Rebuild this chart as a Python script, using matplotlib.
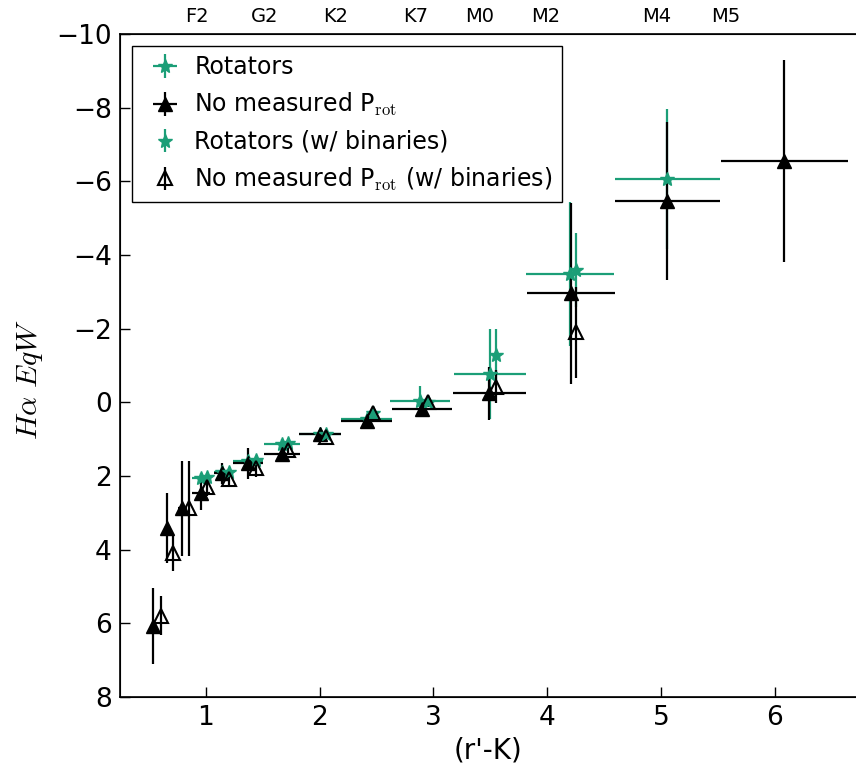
"""Halpha equivalent width vs (r'-K) colour, binned by spectral type."""
import matplotlib
matplotlib.use("Agg")
import matplotlib.pyplot as plt
import numpy as np

plt.rcParams["mathtext.fontset"] = "cm"
plt.rcParams["font.family"] = "DejaVu Sans"

GREEN = "#1b9e77"

# Rotators, binned in colour
rot_x = [0.953, 1.138, 1.372, 1.668, 2.003, 2.413, 2.882, 3.498, 4.20, 5.057]
rot_xerr = [0.08, 0.066, 0.132, 0.157, 0.187, 0.225, 0.264, 0.32, 0.385, 0.463]
rot_y = [2.05, 1.88, 1.60, 1.12, 0.87, 0.46, -0.03, -0.77, -3.48, -6.05]
rot_yerr = [0.12, 0.12, 0.15, 0.12, 0.10, 0.10, 0.40, 1.23, 1.95, 1.90]

# Stars without a measured rotation period
nop_x = [0.536, 0.660, 0.792, 0.953, 1.138, 1.372, 1.666, 2.003, 2.413, 2.897,
         3.49, 4.208, 5.057, 6.086]
nop_xerr = [0.03, 0.03, 0.04, 0.08, 0.066, 0.132, 0.157, 0.187, 0.225, 0.264,
            0.32, 0.385, 0.463, 0.558]
nop_y = [6.07, 3.42, 2.88, 2.47, 1.93, 1.66, 1.39, 0.86, 0.50, 0.17,
         -0.25, -2.96, -5.47, -6.55]
nop_yerr = [1.03, 0.95, 1.29, 0.45, 0.28, 0.42, 0.12, 0.10, 0.10, 0.24,
            0.72, 2.45, 2.15, 2.73]

# Same samples including binaries
rotb_x = [1.011, 1.202, 1.437, 1.724, 2.055, 2.466, 2.955, 3.55, 4.254]
rotb_y = [2.02, 1.88, 1.57, 1.10, 0.87, 0.30, -0.02, -1.28, -3.59]
rotb_yerr = [0.10, 0.10, 0.10, 0.10, 0.10, 0.10, 0.10, 0.72, 1.00]

nopb_x = [0.602, 0.707, 0.848, 1.011, 1.202, 1.437, 1.724, 2.055, 2.466, 2.955,
          3.55, 4.254]
nopb_y = [5.79, 4.10, 2.88, 2.29, 2.09, 1.79, 1.30, 0.93, 0.30, -0.02,
          -0.42, -1.90]
nopb_yerr = [0.52, 0.47, 1.29, 0.25, 0.20, 0.23, 0.12, 0.10, 0.10, 0.15,
             0.45, 1.23]

# Spectral types along the top axis
spt_x = [0.92, 1.52, 2.14, 2.84, 3.41, 3.99, 4.96, 5.57]
spt_labels = ["F2", "G2", "K2", "K7", "M0", "M2", "M4", "M5"]

fig = plt.figure(figsize=(8.56, 7.65), dpi=100)
ax = fig.add_axes([0.1402, 0.0889, 0.8598, 0.8667])

ax.errorbar(rot_x, rot_y, xerr=rot_xerr, yerr=rot_yerr, fmt="*", color=GREEN,
            mec=GREEN, ms=10, lw=1.6, elinewidth=1.6, capsize=0,
            label="Rotators")
ax.errorbar(nop_x, nop_y, xerr=nop_xerr, yerr=nop_yerr, fmt="^", color="k",
            ms=10, lw=1.6, elinewidth=1.6, capsize=0,
            label=r"No measured P$_{\rm rot}$")
ax.errorbar(rotb_x, rotb_y, yerr=rotb_yerr, fmt="*", color=GREEN, mec=GREEN,
            ms=10, lw=1.6, elinewidth=1.6, capsize=0,
            label="Rotators (w/ binaries)")
ax.errorbar(nopb_x, nopb_y, yerr=nopb_yerr, fmt="^", color="k", mfc="none",
            mec="k", mew=1.5, ms=10, lw=1.6, elinewidth=1.6, capsize=0,
            label=r"No measured P$_{\rm rot}$ (w/ binaries)")

ax.set_xlim(0.244, 6.716)
ax.set_ylim(8, -10)
ax.set_yticks(np.arange(-10, 9, 2))
ax.set_xticks([1, 2, 3, 4, 5, 6])
ax.tick_params(direction="in", length=7, width=1, labelsize=19,
               top=False, right=False, pad=6)
ax.spines["right"].set_visible(False)
for s in ("left", "bottom", "top"):
    ax.spines[s].set_linewidth(1.2)

ax.set_xlabel("(r'-K)", fontsize=20)
ax.set_ylabel(r"$H\alpha\ EqW$", fontsize=21.5)
ax.yaxis.set_label_coords(-0.102, 0.479)

leg = ax.legend(loc="upper left", fontsize=17, numpoints=1, handlelength=2,
                handletextpad=0.25, fancybox=False, framealpha=1,
                edgecolor="k")
leg.get_frame().set_linewidth(1.0)

top = ax.twiny()
top.set_xlim(ax.get_xlim())
top.set_xticks(spt_x)
top.set_xticklabels(spt_labels, fontsize=14)
top.tick_params(axis="x", length=0, pad=6)
top.spines["right"].set_visible(False)

fig.savefig("out.png", dpi=100)
